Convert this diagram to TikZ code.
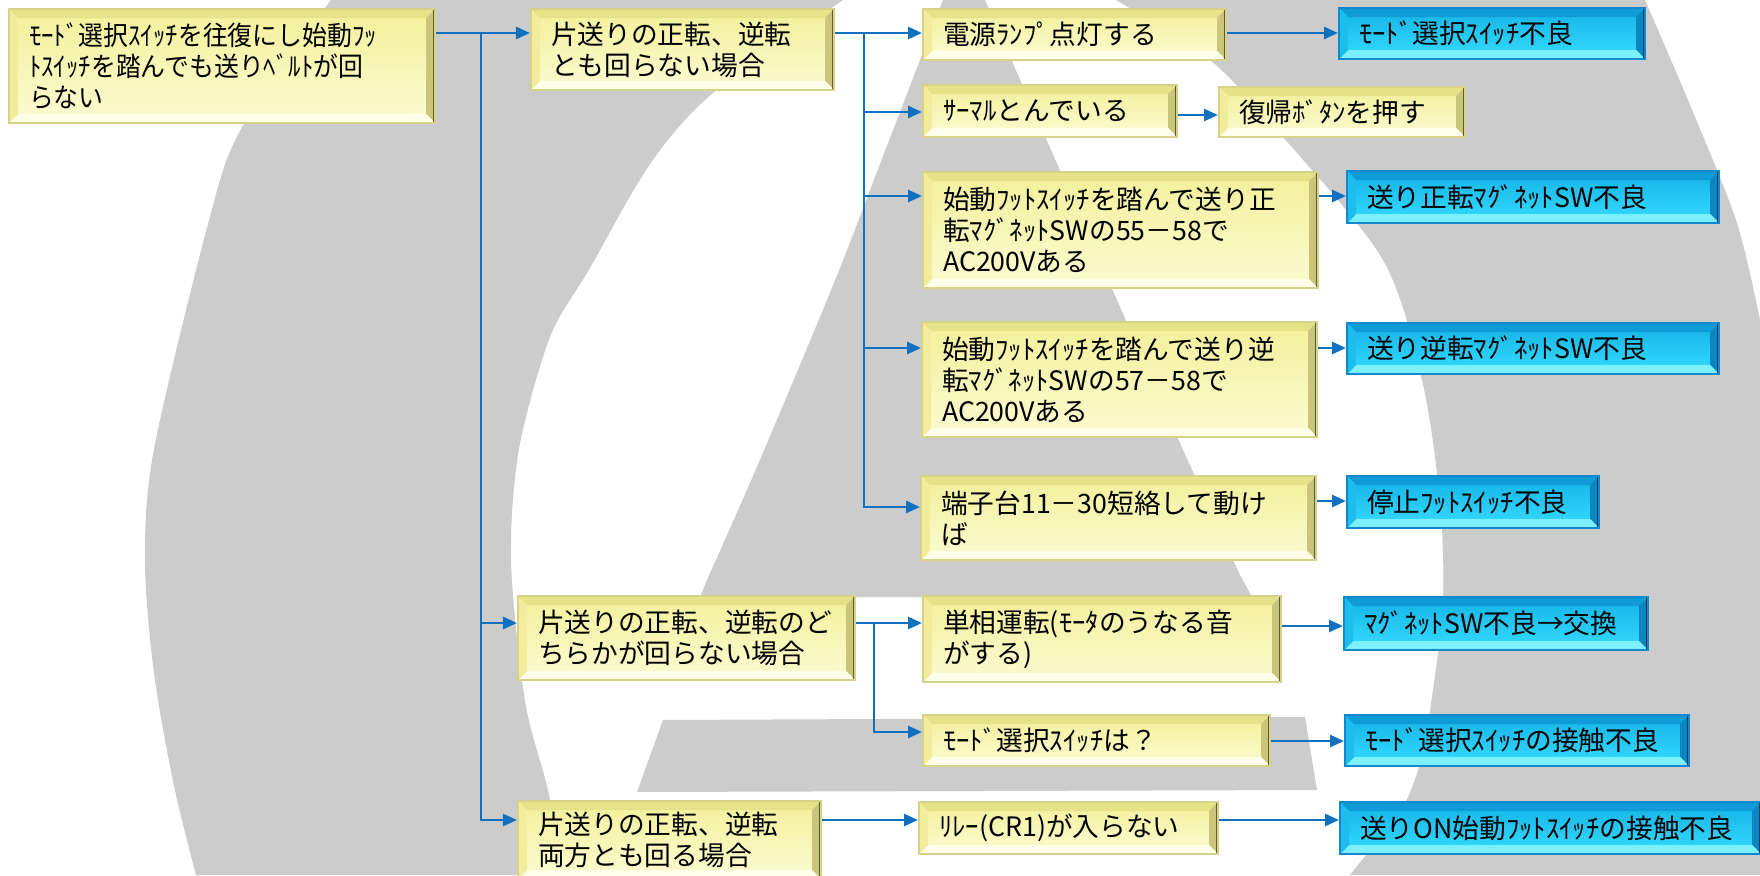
\documentclass[tikz,border=0pt]{standalone}
\usepackage{fontspec}
\setmainfont{Noto Sans CJK JP}
\newfontfamily\narrowfont[FakeStretch=0.93]{Noto Sans CJK JP}
\usetikzlibrary{arrows.meta}

\definecolor{wm}{HTML}{CCCCCC}
\definecolor{linkblue}{RGB}{17,112,192}
% yellow boxes
\definecolor{yT}{HTML}{F3F09A}
\definecolor{yB}{HTML}{FCFBD2}
\definecolor{ybT}{HTML}{E6E28A}
\definecolor{ybR}{HTML}{C9C57A}
\definecolor{ybB}{HTML}{FFFFEA}
\definecolor{ybL}{HTML}{F1ED9C}
\definecolor{ybD}{HTML}{5E5C30}
\definecolor{yedge}{HTML}{D6D288}
% blue boxes
\definecolor{bT}{HTML}{14B2E6}
\definecolor{bB}{HTML}{36DCFF}
\definecolor{bbT}{HTML}{0F9CD6}
\definecolor{bbR}{HTML}{0C86C0}
\definecolor{bbB}{HTML}{7CF0FF}
\definecolor{bbL}{HTML}{1DBDEE}
\definecolor{bbD}{HTML}{073A58}
\definecolor{bedge}{HTML}{1488CC}

\newcommand\boxfont{\fontsize{7.6pt}{8.8pt}\selectfont}

% bevelled face: top, right, bottom, left, dark edge
\newcommand\bevel[5]{%
  \coordinate (bvNW) at (path picture bounding box.north west);
  \coordinate (bvNE) at (path picture bounding box.north east);
  \coordinate (bvSW) at (path picture bounding box.south west);
  \coordinate (bvSE) at (path picture bounding box.south east);
  \fill[#1] (bvNW) -- (bvNE) -- ([shift={(-9,9)}]bvNE) -- ([shift={(9,9)}]bvNW) -- cycle;
  \fill[#2] (bvNE) -- (bvSE) -- ([shift={(-9,-9)}]bvSE) -- ([shift={(-9,9)}]bvNE) -- cycle;
  \fill[#3] (bvSE) -- (bvSW) -- ([shift={(9,-9)}]bvSW) -- ([shift={(-9,-9)}]bvSE) -- cycle;
  \fill[#4] (bvSW) -- (bvNW) -- ([shift={(9,9)}]bvNW) -- ([shift={(9,-9)}]bvSW) -- cycle;
  \draw[#5, line width=1.4pt] (bvNE) -- (bvSE);
}

% style, name, x1, y1, x2, y2, text
\newcommand\chartbox[7]{%
  \pgfmathsetmacro\cbw{(#5-#3-40)*0.01}%
  \pgfmathsetmacro\cbh{(#6-#4)*0.01}%
  \node[#1, anchor=north west, text width=\cbw cm, minimum height=\cbh cm] (#2) at (#3,#4) {#7};%
}

\tikzset{
  cbox/.style={rectangle, line width=0.6pt, inner xsep=0.2cm, inner ysep=0pt, align=left, font=\boxfont},
  ybox/.style={cbox, draw=yedge, top color=yT, bottom color=yB,
    path picture={\bevel{ybT}{ybR}{ybB}{ybL}{ybD}}},
  bbox/.style={cbox, draw=bedge, top color=bT, bottom color=bB,
    path picture={\bevel{bbT}{bbR}{bbB}{bbL}{bbD}}},
  link/.style={draw=linkblue, line width=0.75pt},
  go/.style={link, -{Triangle[length=0.14cm,width=0.12cm]}}
}

\begin{document}
\begin{tikzpicture}[x=0.01cm, y=-0.01cm]
\useasboundingbox (0,0) rectangle (1760,875);
\fill[white] (0,0) rectangle (1760,875);

% watermark
\fill[wm] plot[smooth] coordinates {(331,0) (241,129) (208,224) (154,449) (145,561) (154,673) (174,786) (196,875)}
  -- plot[smooth] coordinates {(567,875) (547,786) (525,701) (511,561) (519,449) (550,337) (590,268) (650,164) (713,93) (843,0)} -- cycle;
\fill[wm] (985,0) -- (1183,450) -- (1240,575) -- (1252,597) -- (700,597)
  -- plot[smooth] coordinates {(707,580) (753,476) (797,372) (840,268) (880,164) (920,60) (943,0)} -- cycle;
\fill[wm] (663,720) -- (1305,717) -- (1317,790) -- (637,792) -- cycle;
\fill[wm] plot[smooth] coordinates {(1116,0) (1210,60) (1283,137) (1383,260) (1422,380) (1440,500) (1443,600) (1433,690) (1420,763) (1400,813) (1362,860) (1350,875)}
  -- (1760,875) -- plot[smooth] coordinates {(1760,320) (1737,223) (1693,112) (1645,0)} -- cycle;

% boxes
\chartbox{ybox}{main}{8}{8}{434}{122}{\narrowfont ﾓｰﾄﾞ選択ｽｲｯﾁを往復にし始動ﾌｯ\\ﾄｽｲｯﾁを踏んでも送りﾍﾞﾙﾄが回\\らない}
\chartbox{ybox}{caseA}{530}{8}{833}{89}{片送りの正転、逆転\\とも回らない場合}
\chartbox{ybox}{lamp}{922}{8}{1225}{59}{電源ﾗﾝﾌﾟ点灯する}
\chartbox{bbox}{modeNG}{1338}{7}{1644}{58}{ﾓｰﾄﾞ選択ｽｲｯﾁ不良}
\chartbox{ybox}{thermal}{922}{84}{1176}{136}{ｻｰﾏﾙとんでいる}
\chartbox{ybox}{reset}{1218}{86}{1464}{136}{復帰ﾎﾞﾀﾝを押す}
\chartbox{ybox}{fwdchk}{922}{171}{1317}{287}{始動ﾌｯﾄｽｲｯﾁを踏んで送り正\\転ﾏｸﾞﾈｯﾄSWの55－58で\\AC200Vある}
\chartbox{bbox}{fwdNG}{1346}{170}{1718}{222}{送り正転ﾏｸﾞﾈｯﾄSW不良}
\chartbox{ybox}{revchk}{921}{321}{1316}{436}{始動ﾌｯﾄｽｲｯﾁを踏んで送り逆\\転ﾏｸﾞﾈｯﾄSWの57－58で\\AC200Vある}
\chartbox{bbox}{revNG}{1346}{322}{1718}{373}{送り逆転ﾏｸﾞﾈｯﾄSW不良}
\chartbox{ybox}{term}{920}{475}{1315}{559}{端子台11－30短絡して動け\\ば}
\chartbox{bbox}{stopNG}{1346}{475}{1598}{527}{停止ﾌｯﾄｽｲｯﾁ不良}
\chartbox{ybox}{caseB}{517}{595}{854}{679}{片送りの正転、逆転のど\\ちらかが回らない場合}
\chartbox{ybox}{single}{922}{595}{1280}{681}{単相運転(ﾓｰﾀのうなる音\\がする)}
\chartbox{bbox}{magNG}{1343}{596}{1647}{649}{ﾏｸﾞﾈｯﾄSW不良→交換}
\chartbox{ybox}{modeq}{922}{714}{1269}{765}{ﾓｰﾄﾞ選択ｽｲｯﾁは？}
\chartbox{bbox}{contactNG}{1344}{714}{1688}{765}{ﾓｰﾄﾞ選択ｽｲｯﾁの接触不良}
\chartbox{ybox}{caseC}{517}{800}{820}{878}{片送りの正転、逆転\\両方とも回る場合}
\chartbox{ybox}{relay}{918}{801}{1217}{853}{ﾘﾚｰ(CR1)が入らない}
\chartbox{bbox}{onNG}{1339}{801}{1760}{853}{送りON始動ﾌｯﾄｽｲｯﾁの接触不良}

% first level
\coordinate (mainJ) at (481,33);
\draw[go] (main.east |- mainJ) -- (caseA.west |- mainJ);
\draw[go] (mainJ) |- (caseB.west |- 0,623);
\draw[go] (mainJ) |- (caseC.west |- 0,820);

% both directions stopped
\coordinate (aJ) at (864,33);
\draw[link] (caseA.east |- aJ) -- (aJ);
\draw[go] (aJ) -- (lamp.west |- aJ);
\draw[go] (aJ) |- (thermal.west |- 0,112);
\draw[go] (aJ) |- (fwdchk.west |- 0,196);
\draw[go] (aJ) |- (revchk.west |- 0,348);
\draw[go] (aJ) |- (term.west |- 0,507);
\draw[go] (lamp.east |- 0,33) -- (modeNG.west |- 0,33);
\draw[go] (thermal.east |- 0,115) -- (reset.west |- 0,115);
\draw[go] (fwdchk.east |- 0,196) -- (fwdNG.west |- 0,196);
\draw[go] (revchk.east |- 0,348) -- (revNG.west |- 0,348);
\draw[go] (term.east |- 0,501) -- (stopNG.west |- 0,501);

% one direction stopped
\coordinate (bJ) at (874,623);
\draw[link] (caseB.east |- bJ) -- (bJ);
\draw[go] (bJ) -- (single.west |- bJ);
\draw[go] (bJ) |- (modeq.west |- 0,732);
\draw[go] (single.east |- 0,626) -- (magNG.west |- 0,626);
\draw[go] (modeq.east |- 0,741) -- (contactNG.west |- 0,741);

% both directions run
\draw[go] (caseC.east |- 0,820) -- (relay.west |- 0,820);
\draw[go] (relay.east |- 0,820) -- (onNG.west |- 0,820);
\end{tikzpicture}
\end{document}
